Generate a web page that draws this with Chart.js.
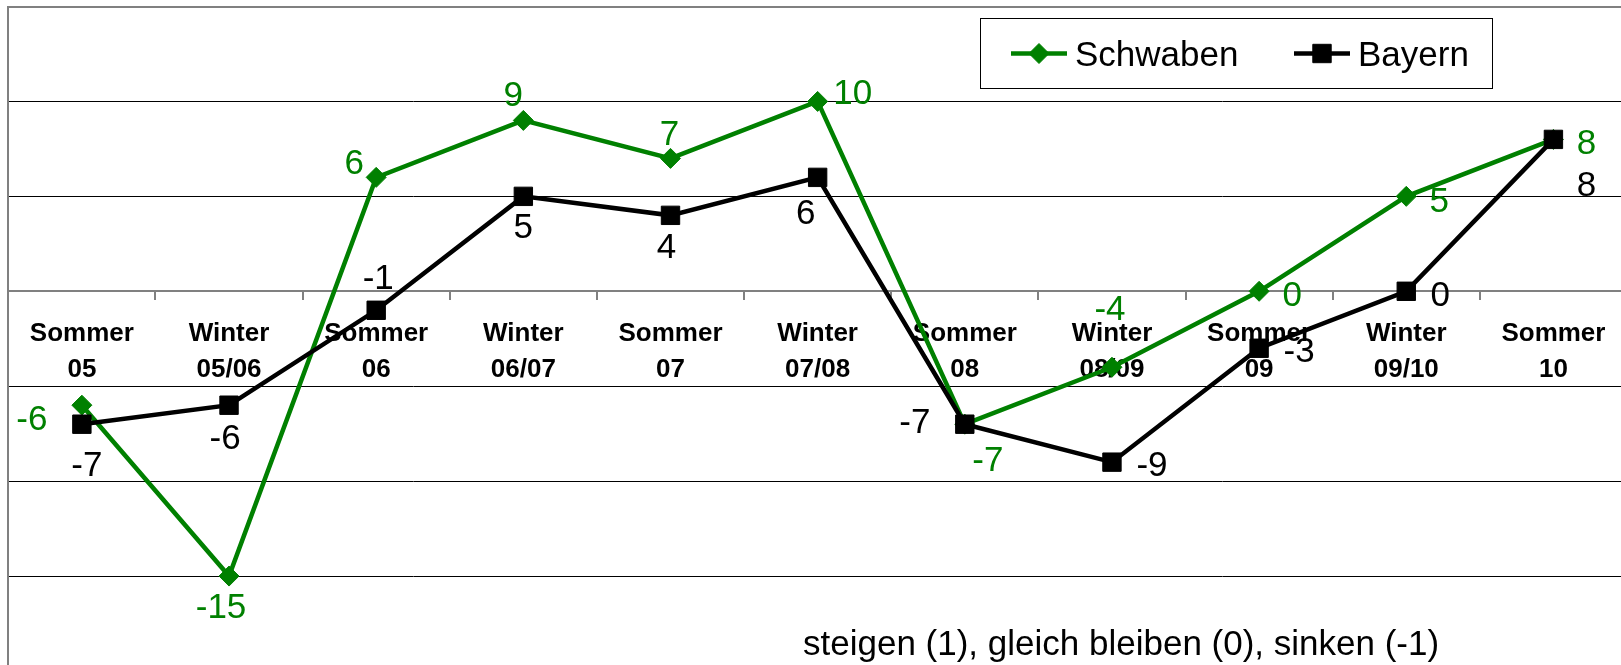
<!DOCTYPE html>
<html><head><meta charset="utf-8">
<script src="https://cdn.jsdelivr.net/npm/chart.js@4"></script>
<style>html,body{margin:0;padding:0;background:#fff;overflow:hidden}canvas{display:block}</style>
</head><body>
<canvas id="c" width="1627" height="671"></canvas>
<script>
const categories = [['Sommer','05'],['Winter','05/06'],['Sommer','06'],['Winter','06/07'],['Sommer','07'],['Winter','07/08'],['Sommer','08'],['Winter','08/09'],['Sommer','09'],['Winter','09/10'],['Sommer','10']];
const schwaben = [-6,-15,6,9,7,10,-7,-4,0,5,8];
const bayern = [-7,-6,-1,5,4,6,-7,-9,-3,0,8];
const seriesNames = ['Schwaben','Bayern'];
const yMin = -20, yMax = 15, yStep = 5;
const footnote = 'steigen (1), gleich bleiben (0), sinken (-1)';

// label placement relative to each point (text centre offset in px)
const schwabenLabelOffsets = [[-50,12],[-8,29],[-22,-16],[-10,-27],[-1,-26],[35,-10],[23,34],[-2,-60],[33,2],[33,3],[33,2]];
const bayernLabelOffsets = [[5,39],[-4,31],[2,-34],[0,29],[-4,30],[-12,34],[-50,-4],[40,1],[40,1],[34,2],[33,44]];

const FONT = '"Liberation Sans", Arial, sans-serif';
const GREEN = '#008000';
const LINE_W = 4.5;

const labelPlugin = {
  id: 'valueLabels',
  afterDatasetsDraw(chart) {
    const ctx = chart.ctx;
    ctx.save();
    ctx.font = '35px ' + FONT;
    ctx.textAlign = 'center';
    ctx.textBaseline = 'alphabetic';
    chart.data.datasets.forEach((ds, di) => {
      const meta = chart.getDatasetMeta(di);
      const offs = ds.labelOffsets;
      ctx.fillStyle = ds.borderColor;
      meta.data.forEach((pt, i) => {
        ctx.fillText(String(ds.data[i]), pt.x + offs[i][0], pt.y + offs[i][1] + 12.5);
      });
    });
    ctx.restore();
  }
};

const legendPlugin = {
  id: 'boxLegend',
  afterDraw(chart) {
    const ctx = chart.ctx;
    ctx.save();
    ctx.fillStyle = '#fff';
    ctx.fillRect(980.5, 18.5, 512, 70);
    ctx.strokeStyle = '#000';
    ctx.lineWidth = 1;
    ctx.strokeRect(980.5, 18.5, 512, 70);
    const items = [
      {x1: 1011, x2: 1067, tx: 1075, ds: chart.data.datasets[0]},
      {x1: 1294, x2: 1350, tx: 1358, ds: chart.data.datasets[1]}
    ];
    const cy = 53.5;
    items.forEach(it => {
      const ds = it.ds;
      ctx.strokeStyle = ds.borderColor;
      ctx.lineWidth = LINE_W;
      ctx.beginPath();
      ctx.moveTo(it.x1, cy); ctx.lineTo(it.x2, cy);
      ctx.stroke();
      ctx.fillStyle = ds.borderColor;
      ctx.lineWidth = 1;
      Chart.helpers.drawPoint(ctx, {pointStyle: ds.pointStyle, radius: ds.pointRadius, borderWidth: 1, rotation: 0}, (it.x1 + it.x2) / 2, cy);
      ctx.fillStyle = '#000';
      ctx.font = '35px ' + FONT;
      ctx.textAlign = 'left';
      ctx.textBaseline = 'alphabetic';
      ctx.fillText(ds.label, it.tx, cy + 12.5);
    });
    ctx.font = '35px ' + FONT;
    ctx.fillStyle = '#000';
    ctx.textAlign = 'left';
    ctx.fillText(footnote, 803, 655);
    ctx.restore();
  }
};

const noPad = s => { s.paddingLeft = 0; s.paddingRight = 0; s.paddingTop = 0; s.paddingBottom = 0; };

new Chart(document.getElementById('c').getContext('2d'), {
  type: 'line',
  data: {
    labels: categories,
    datasets: [
      {label: seriesNames[0], data: schwaben, borderColor: GREEN, backgroundColor: GREEN, borderWidth: LINE_W,
       pointStyle: 'rectRot', pointRadius: 10, pointHoverRadius: 10, pointBorderWidth: 1, order: 2, tension: 0,
       labelOffsets: schwabenLabelOffsets},
      {label: seriesNames[1], data: bayern, borderColor: '#000', backgroundColor: '#000', borderWidth: LINE_W,
       pointStyle: 'rect', pointRadius: 13, pointHoverRadius: 13, pointBorderWidth: 1, order: 1, tension: 0,
       labelOffsets: bayernLabelOffsets}
    ]
  },
  options: {
    responsive: false, animation: false, devicePixelRatio: 1,
    layout: {autoPadding: false, padding: {left: 8.3, top: 6.5, right: 0, bottom: 0}},
    plugins: {legend: {display: false}, tooltip: {enabled: false}},
    scales: {
      x: {
        type: 'category', offset: true, position: {y: 0}, afterFit: noPad,
        grid: {offset: true, drawOnChartArea: false, drawTicks: true, tickLength: 8, color: '#808080', lineWidth: 2},
        border: {display: true, color: '#808080', width: 2},
        ticks: {autoSkip: false, maxRotation: 0, minRotation: 0, padding: 17, color: '#000',
                font: {family: FONT, size: 26, weight: 'bold', lineHeight: 1.385}}
      },
      y: {
        min: yMin, max: yMax, position: 'left', afterFit: noPad,
        ticks: {display: false, stepSize: yStep},
        grid: {drawTicks: false,
               color: c => (c.tick && (c.tick.value === yMax || c.tick.value === 0)) ? '#808080' : '#000',
               lineWidth: c => (c.tick && (c.tick.value === yMax || c.tick.value === 0)) ? 2 : 1},
        border: {color: '#808080', width: 2}
      }
    }
  },
  plugins: [labelPlugin, legendPlugin]
});
</script>
</body></html>
